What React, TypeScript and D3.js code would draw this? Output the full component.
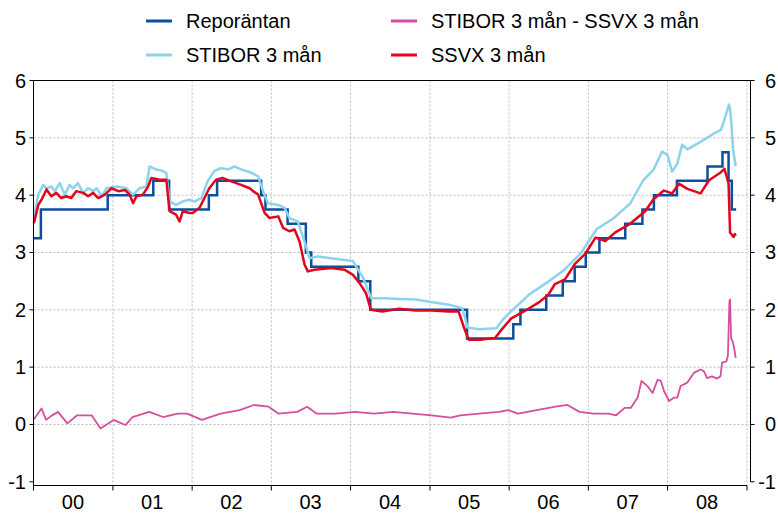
import React from 'react';
import * as d3 from 'd3';

// Reporäntan (step series, date of change)
const repoRate: [string, number][] = [
  ['2000-01-03', 3.25], ['2000-02-04', 3.75], ['2000-12-08', 4.0], ['2001-07-06', 4.25],
  ['2001-09-17', 3.75], ['2002-03-19', 4.0], ['2002-04-26', 4.25], ['2002-11-15', 4.0],
  ['2002-12-05', 3.75], ['2003-03-17', 3.5], ['2003-06-09', 3.0], ['2003-07-04', 2.75],
  ['2004-02-06', 2.5], ['2004-04-01', 2.0], ['2005-06-21', 1.5], ['2006-01-20', 1.75],
  ['2006-02-22', 2.0], ['2006-06-21', 2.25], ['2006-09-05', 2.5], ['2006-10-30', 2.75],
  ['2006-12-20', 3.0], ['2007-02-21', 3.25], ['2007-06-20', 3.5], ['2007-09-07', 3.75],
  ['2007-10-30', 4.0], ['2008-02-13', 4.25], ['2008-07-03', 4.5], ['2008-09-10', 4.75],
  ['2008-10-08', 4.25], ['2008-10-23', 3.75], ['2008-11-12', 3.75],
];

const stibor: [string, number][] = [
  ['2000-01-03', 3.63], ['2000-01-23', 4.01], ['2000-02-15', 4.18], ['2000-03-01', 4.12],
  ['2000-03-23', 4.15], ['2000-04-08', 4.07], ['2000-05-01', 4.21], ['2000-05-24', 4.01],
  ['2000-06-16', 4.18], ['2000-07-01', 4.12], ['2000-07-24', 4.21], ['2000-08-17', 4.04],
  ['2000-09-09', 4.12], ['2000-10-02', 4.07], ['2000-10-18', 4.12], ['2000-11-10', 3.98],
  ['2000-12-03', 4.12], ['2001-01-19', 4.15], ['2001-03-04', 4.12], ['2001-04-04', 4.01],
  ['2001-05-04', 4.12], ['2001-06-04', 4.15], ['2001-06-19', 4.5], ['2001-07-19', 4.45],
  ['2001-08-19', 4.42], ['2001-09-04', 4.39], ['2001-09-19', 3.89], ['2001-10-19', 3.83],
  ['2001-11-19', 3.89], ['2001-12-19', 3.92], ['2002-01-13', 3.89], ['2002-02-13', 3.95],
  ['2002-03-13', 4.24], ['2002-04-13', 4.42], ['2002-05-13', 4.47], ['2002-06-15', 4.45],
  ['2002-07-15', 4.5], ['2002-08-15', 4.45], ['2002-10-01', 4.39], ['2002-11-01', 4.33],
  ['2002-11-24', 4.07], ['2002-12-16', 3.86], ['2003-02-02', 3.83], ['2003-03-03', 3.78],
  ['2003-03-25', 3.6], ['2003-05-03', 3.54], ['2003-06-03', 3.19], ['2003-06-26', 2.9],
  ['2003-08-03', 2.93], ['2003-10-03', 2.9], ['2003-12-04', 2.87], ['2004-01-12', 2.85],
  ['2004-01-28', 2.75], ['2004-02-25', 2.58], ['2004-04-06', 2.2], ['2004-06-04', 2.2],
  ['2004-08-12', 2.19], ['2004-10-28', 2.18], ['2004-12-29', 2.14], ['2005-03-29', 2.09],
  ['2005-05-29', 2.03], ['2005-06-13', 1.85], ['2005-06-22', 1.69], ['2005-08-16', 1.66],
  ['2005-11-03', 1.68], ['2005-12-01', 1.82], ['2006-01-03', 1.95], ['2006-02-06', 2.07],
  ['2006-04-04', 2.27], ['2006-06-22', 2.47], ['2006-09-07', 2.68], ['2006-11-24', 2.97],
  ['2007-02-09', 3.41], ['2007-04-25', 3.59], ['2007-07-12', 3.85], ['2007-09-11', 4.26],
  ['2007-10-28', 4.44], ['2007-12-07', 4.76], ['2008-01-01', 4.7], ['2008-01-22', 4.41],
  ['2008-02-15', 4.55], ['2008-03-08', 4.88], ['2008-04-01', 4.8], ['2008-06-01', 4.93],
  ['2008-08-03', 5.08], ['2008-09-03', 5.14], ['2008-09-19', 5.32], ['2008-10-10', 5.58],
  ['2008-10-15', 5.5], ['2008-10-22', 5.2], ['2008-10-29', 4.79], ['2008-11-10', 4.5],
];

const ssvx: [string, number][] = [
  ['2000-01-03', 3.51], ['2000-01-23', 3.83], ['2000-02-07', 3.92], ['2000-03-01', 4.1],
  ['2000-03-23', 3.98], ['2000-04-15', 4.04], ['2000-05-08', 3.95], ['2000-05-31', 3.98],
  ['2000-06-23', 3.95], ['2000-07-16', 4.07], ['2000-08-17', 4.04], ['2000-09-09', 3.98],
  ['2000-10-02', 4.04], ['2000-10-25', 3.95], ['2000-11-25', 4.01], ['2000-12-25', 4.12],
  ['2001-01-26', 4.07], ['2001-02-26', 4.09], ['2001-03-19', 4.01], ['2001-04-04', 3.86],
  ['2001-04-19', 3.98], ['2001-05-19', 4.01], ['2001-06-12', 4.15], ['2001-06-27', 4.3],
  ['2001-08-04', 4.27], ['2001-09-04', 4.27], ['2001-09-19', 3.72], ['2001-10-19', 3.66],
  ['2001-11-04', 3.54], ['2001-11-19', 3.72], ['2001-12-19', 3.69], ['2002-01-04', 3.69],
  ['2002-02-04', 3.78], ['2002-02-27', 3.95], ['2002-03-21', 4.12], ['2002-04-21', 4.27],
  ['2002-05-21', 4.3], ['2002-06-30', 4.24], ['2002-08-15', 4.18], ['2002-09-23', 4.12],
  ['2002-10-09', 4.07], ['2002-11-01', 4.01], ['2002-12-01', 3.69], ['2002-12-24', 3.6],
  ['2003-02-02', 3.63], ['2003-02-24', 3.43], ['2003-03-25', 3.37], ['2003-04-18', 3.4],
  ['2003-05-11', 3.19], ['2003-06-03', 2.79], ['2003-06-18', 2.67], ['2003-07-19', 2.7],
  ['2003-10-03', 2.73], ['2003-12-04', 2.7], ['2004-01-12', 2.61], ['2004-02-11', 2.47],
  ['2004-03-12', 2.29], ['2004-04-04', 2.0], ['2004-05-26', 1.97], ['2004-08-12', 2.02],
  ['2004-10-26', 1.99], ['2005-01-10', 1.99], ['2005-03-29', 1.97], ['2005-05-13', 1.97],
  ['2005-06-05', 1.71], ['2005-06-28', 1.48], ['2005-08-26', 1.48], ['2005-10-28', 1.51],
  ['2005-11-26', 1.65], ['2006-01-11', 1.85], ['2006-03-14', 1.98], ['2006-05-14', 2.12],
  ['2006-06-30', 2.26], ['2006-07-31', 2.45], ['2006-09-15', 2.53], ['2006-10-31', 2.8],
  ['2006-12-16', 2.97], ['2007-02-03', 3.26], ['2007-03-20', 3.2], ['2007-05-05', 3.35],
  ['2007-07-12', 3.5], ['2007-09-20', 3.72], ['2007-10-28', 3.93], ['2007-12-15', 4.08],
  ['2008-01-22', 4.03], ['2008-02-22', 4.2], ['2008-04-01', 4.11], ['2008-06-01', 4.03],
  ['2008-07-10', 4.26], ['2008-09-03', 4.4], ['2008-09-19', 4.46], ['2008-10-01', 4.3],
  ['2008-10-08', 4.2], ['2008-10-15', 3.35], ['2008-10-31', 3.27], ['2008-11-06', 3.32],
  ['2008-11-10', 3.29],
];

// STIBOR 3 mån - SSVX 3 mån
const spread: [string, number][] = [
  ['2000-01-03', 0.09], ['2000-02-07', 0.28], ['2000-02-28', 0.08], ['2000-03-23', 0.15],
  ['2000-04-23', 0.22], ['2000-06-05', 0.02], ['2000-07-20', 0.16], ['2000-09-25', 0.16],
  ['2000-11-05', -0.07], ['2001-01-04', 0.08], ['2001-02-28', -0.01], ['2001-04-01', 0.13],
  ['2001-06-17', 0.22], ['2001-08-20', 0.13], ['2001-10-26', 0.19], ['2001-12-09', 0.19],
  ['2002-02-15', 0.08], ['2002-05-12', 0.19], ['2002-08-08', 0.25], ['2002-10-13', 0.34],
  ['2002-12-19', 0.31], ['2003-02-02', 0.19], ['2003-04-30', 0.22], ['2003-06-15', 0.31],
  ['2003-07-28', 0.19], ['2003-10-25', 0.19], ['2004-01-21', 0.22], ['2004-04-19', 0.19],
  ['2004-07-16', 0.22], ['2004-10-12', 0.19], ['2005-01-09', 0.16], ['2005-04-06', 0.12],
  ['2005-05-21', 0.16], ['2005-08-16', 0.19], ['2005-11-14', 0.22], ['2005-12-27', 0.25],
  ['2006-02-10', 0.19], ['2006-05-08', 0.25], ['2006-08-03', 0.31], ['2006-09-27', 0.34],
  ['2006-11-21', 0.22], ['2007-01-25', 0.19], ['2007-04-02', 0.19], ['2007-05-09', 0.16],
  ['2007-06-17', 0.29], ['2007-07-16', 0.29], ['2007-08-16', 0.47], ['2007-09-03', 0.76],
  ['2007-09-30', 0.67], ['2007-10-24', 0.55], ['2007-11-16', 0.78], ['2007-12-01', 0.76],
  ['2007-12-16', 0.58], ['2008-01-08', 0.41], ['2008-01-31', 0.47], ['2008-02-15', 0.47],
  ['2008-03-01', 0.67], ['2008-04-01', 0.73], ['2008-05-01', 0.9], ['2008-06-01', 0.96],
  ['2008-06-16', 0.93], ['2008-07-01', 0.81], ['2008-07-24', 0.84], ['2008-08-16', 0.8],
  ['2008-09-01', 0.84], ['2008-09-08', 1.08], ['2008-09-28', 1.1], ['2008-10-05', 1.2],
  ['2008-10-12', 2.15], ['2008-10-15', 2.18], ['2008-10-20', 1.5], ['2008-10-27', 1.45],
  ['2008-11-02', 1.35], ['2008-11-10', 1.16],
];

const yTicks = [-1, 0, 1, 2, 3, 4, 5, 6];
const yearLabels = ['00', '01', '02', '03', '04', '05', '06', '07', '08'];

const colors = {
  repo: '#0b4f9f',
  stibor: '#8ed2ec',
  ssvx: '#e3051b',
  spread: '#d4509d',
};

const font = 'Liberation Sans, Arial, sans-serif';

const App = () => {
  const parse = d3.timeParse('%Y-%m-%d');
  const left = 33.5;
  const top = 80.5;
  const rightAxis = 750.5;
  const bottomAxis = 485.5;

  const x = d3
    .scaleTime()
    .domain([new Date(2000, 0, 1), new Date(2009, 0, 1)])
    .range([left, 747]);
  const y = d3.scaleLinear().domain([-1, 6]).range([481.8, top]);

  const line = d3
    .line<[string, number]>()
    .x((d) => x(parse(d[0]) as Date))
    .y((d) => y(d[1]));
  const stepLine = d3
    .line<[string, number]>()
    .x((d) => x(parse(d[0]) as Date))
    .y((d) => y(d[1]))
    .curve(d3.curveStepAfter);

  const years = d3.range(2000, 2010).map((yr) => new Date(yr, 0, 1));

  return (
    <svg width={778} height={514} style={{ position: 'absolute', left: 0, top: 0 }} fontFamily={font}>
      <rect width={778} height={514} fill="#fff" />

      {/* grid */}
      {yTicks.filter((t) => t > -1 && t < 6).map((t) => (
        <line key={'gy' + t} x1={left} x2={rightAxis} y1={y(t)} y2={y(t)}
          stroke="#bdbdbd" strokeWidth={1} strokeDasharray="2,2" />
      ))}
      {years.slice(1).map((d, i) => (
        <line key={'gx' + i} x1={x(d)} x2={x(d)} y1={top} y2={bottomAxis}
          stroke="#bdbdbd" strokeWidth={1} strokeDasharray="2,2" />
      ))}

      {/* series */}
      <path d={stepLine(repoRate) || ''} fill="none" stroke={colors.repo} strokeWidth={2.5} />
      <path d={line(stibor) || ''} fill="none" stroke={colors.stibor} strokeWidth={2.5} strokeLinejoin="round" />
      <path d={line(spread) || ''} fill="none" stroke={colors.spread} strokeWidth={1.8} strokeLinejoin="round" />
      <path d={line(ssvx) || ''} fill="none" stroke={colors.ssvx} strokeWidth={2.5} strokeLinejoin="round" />

      {/* frame */}
      <line x1={left} x2={rightAxis} y1={top} y2={top} stroke="#000" strokeWidth={1} />
      <line x1={left} x2={left} y1={top} y2={bottomAxis + 1} stroke="#000" strokeWidth={1} />
      <line x1={rightAxis} x2={rightAxis} y1={top} y2={y(-1)} stroke="#000" strokeWidth={1} />
      <line x1={left} x2={x(years[9])} y1={bottomAxis} y2={bottomAxis} stroke="#000" strokeWidth={1} />

      {/* y axes */}
      {yTicks.map((t) => (
        <g key={'yt' + t}>
          <line x1={left - 4} x2={left} y1={y(t)} y2={y(t)} stroke="#000" />
          <line x1={rightAxis} x2={rightAxis + 4} y1={y(t)} y2={y(t)} stroke="#000" />
          <text x={26} y={y(t) + 7} textAnchor="end" fontSize={20} fill="#000">{t}</text>
          <text x={776} y={y(t) + 7} textAnchor="end" fontSize={20} fill="#000">{t}</text>
        </g>
      ))}

      {/* x axis */}
      {years.map((d, i) => (
        <line key={'xt' + i} x1={x(d)} x2={x(d)} y1={bottomAxis} y2={bottomAxis + 5} stroke="#000" />
      ))}
      {yearLabels.map((lab, i) => (
        <text key={'xl' + lab} x={x(new Date(2000 + i, 6, 1))} y={509} textAnchor="middle" fontSize={20} fill="#000">
          {lab}
        </text>
      ))}

      {/* legend */}
      <g fontSize={20} fill="#000">
        <line x1={146} x2={172} y1={21} y2={21} stroke={colors.repo} strokeWidth={3} />
        <text x={186} y={28}>Reporäntan</text>
        <line x1={391} x2={417} y1={21} y2={21} stroke={colors.spread} strokeWidth={3} />
        <text x={431} y={28}>STIBOR 3 mån - SSVX 3 mån</text>
        <line x1={146} x2={172} y1={55} y2={55} stroke={colors.stibor} strokeWidth={3} />
        <text x={186} y={62}>STIBOR 3 mån</text>
        <line x1={391} x2={417} y1={55} y2={55} stroke={colors.ssvx} strokeWidth={3} />
        <text x={431} y={62}>SSVX 3 mån</text>
      </g>
    </svg>
  );
};

export default App;
